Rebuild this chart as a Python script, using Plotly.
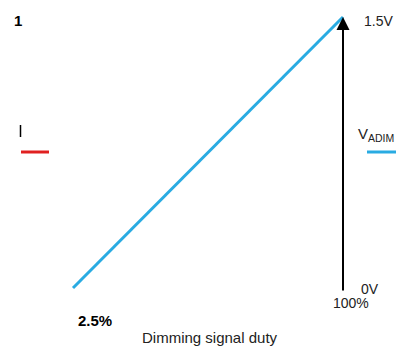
import plotly.graph_objects as go

# data
duty = [2.5, 100]          # dimming signal duty (%)
vadim = [0.0, 1.5]         # V_ADIM (V)
duty_labels = ["2.5%", "100%"]
v_labels = ["0V", "1.5V"]

W, H = 396, 347
# pixel mapping: duty 2.5 -> x=73, duty 100 -> x=343 ; 0V -> y=288, 1.5V -> y=17
bx = (343 - 73) / (duty[1] - duty[0])
x0 = duty[0] - 73 / bx
x1 = duty[0] + (W - 73) / bx
by = (288 - 17) / (vadim[1] - vadim[0])
y0 = vadim[0] - (H - 288) / by
y1 = vadim[1] + 17 / by

def px(x, y):
    return x / W, 1 - y / H

fig = go.Figure()
fig.add_trace(go.Scatter(x=duty, y=vadim, mode="lines",
                         line=dict(color="#29ABE2", width=3), hoverinfo="skip"))

FONT = "Liberation Sans, Arial, sans-serif"
ann = []
# vertical arrow at 100%
ann.append(dict(x=duty[1], y=vadim[1], ax=duty[1], ay=vadim[0] - 4 / by,
                xref="x", yref="y", axref="x", ayref="y",
                showarrow=True, arrowhead=2, arrowsize=1.3, arrowwidth=2,
                arrowcolor="black", text=""))

def txt(t, x, y, size=13, bold=False, color="#222", xanchor="center"):
    fx, fy = px(x, y)
    ann.append(dict(text=f"<b>{t}</b>" if bold else t, x=fx, y=fy, xref="paper", yref="paper",
                    showarrow=False, xanchor=xanchor, yanchor="middle",
                    font=dict(family=FONT, size=size, color=color)))

txt("1", 18, 21, size=15, bold=True, color="black")
txt(v_labels[1], 378, 21, size=14)
txt(v_labels[0], 370, 289, size=14)
txt(duty_labels[1], 351, 303, size=14)
txt(duty_labels[0], 95, 320, size=15, bold=True, color="black")
txt("Dimming signal duty", 210, 337, size=15)
txt("V<sub>ADIM</sub>", 356, 134, size=15, xanchor="left")
fig.update_layout(annotations=ann)

shapes = [
    dict(type="line", xref="paper", yref="paper", x0=21 / W, x1=49 / W,
         y0=1 - 152 / H, y1=1 - 152 / H, line=dict(color="#E02020", width=3)),
    dict(type="line", xref="paper", yref="paper", x0=367 / W, x1=396 / W,
         y0=1 - 152 / H, y1=1 - 152 / H, line=dict(color="#29ABE2", width=3)),
    dict(type="line", xref="paper", yref="paper", x0=20.5 / W, x1=20.5 / W,
         y0=1 - 125 / H, y1=1 - 137 / H, line=dict(color="black", width=1.5)),
]

fig.update_layout(
    width=W, height=H, margin=dict(l=0, r=0, t=0, b=0),
    paper_bgcolor="white", plot_bgcolor="white", showlegend=False,
    xaxis=dict(range=[x0, x1], visible=False, fixedrange=True),
    yaxis=dict(range=[y0, y1], visible=False, fixedrange=True),
    shapes=shapes,
)
fig.write_html("out.html", config={"displayModeBar": False},
               post_script="document.body.style.margin='0';document.body.style.overflow='hidden';")
